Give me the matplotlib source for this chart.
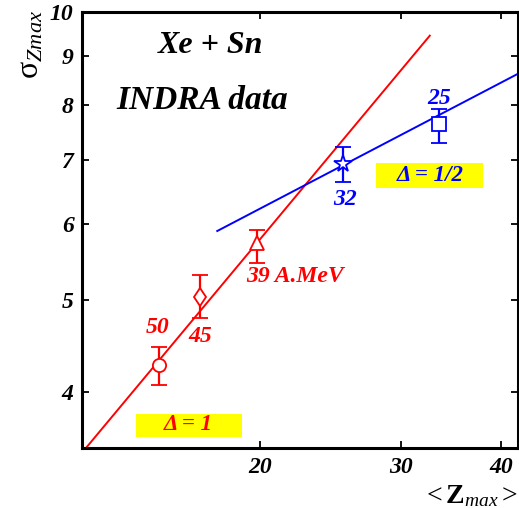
import numpy as np
import matplotlib
matplotlib.use("Agg")
import matplotlib.pyplot as plt
from matplotlib.patches import Rectangle
from matplotlib.ticker import FixedLocator, NullLocator, FixedFormatter

# data points (mean Zmax, sigma Zmax, error bar low/high)
red_x = [14.97, 16.83, 19.87]
red_y = [4.27, 5.03, 5.73]
red_lo = [4.07, 4.78, 5.46]
red_hi = [4.46, 5.30, 5.91]
red_markers = ['o', 'd', '^']
red_labels = ['50', '45', '39 A.MeV']
red_label_x = [14.93, 16.88, 19.21]
red_label_y = [4.67, 4.57, 5.29]

blue_x = [25.4, 33.5]
blue_y = [6.94, 7.64]
blue_lo = [6.64, 7.29]
blue_hi = [7.23, 7.92]
blue_markers = ['*', 's']
blue_labels = ['32', '25']
blue_label_x = [25.56, 33.45]
blue_label_y = [6.37, 8.13]

# scaling lines
red_line_x = [12.15, 32.6]
red_line_y = [3.5, 9.45]
blue_line_x = [17.7, 42.0]
blue_line_y = [5.90, 8.62]

xticks = [20, 30, 40]
yticks = [4, 5, 6, 7, 8, 9, 10]

RED = '#ff0000'
BLUE = '#0000ff'
FONT = 'Liberation Serif'

plt.rcParams['mathtext.fontset'] = 'custom'
plt.rcParams['mathtext.rm'] = 'Liberation Serif'
plt.rcParams['mathtext.it'] = 'Liberation Serif:italic'
plt.rcParams['mathtext.bf'] = 'Liberation Serif:bold'

fig = plt.figure(figsize=(5.19, 5.08), dpi=100)
ax = fig.add_axes([0.158, 0.119, 0.840, 0.857])
ax.set_xscale('log')
ax.set_yscale('log')
ax.set_xlim(12, 42)
ax.set_ylim(3.5, 10)

ax.plot(red_line_x, red_line_y, color=RED, lw=1.4)
ax.plot(blue_line_x, blue_line_y, color=BLUE, lw=1.4)

def draw_points(xs, ys, lo, hi, markers, color):
	for i in range(len(xs)):
		err = [[ys[i] - lo[i]], [hi[i] - ys[i]]]
		ms = 13 if markers[i] == '*' else 9.5
		ax.errorbar([xs[i]], [ys[i]], yerr=err, fmt=markers[i], color=color,
			mfc='white', mec=color, ms=ms, mew=1.3, elinewidth=1.6,
			capsize=5.5, capthick=1.6)

draw_points(red_x, red_y, red_lo, red_hi, red_markers, RED)
draw_points(blue_x, blue_y, blue_lo, blue_hi, blue_markers, BLUE)

for i in range(len(red_labels)):
	ha = 'left' if i == 2 else 'center'
	ax.text(red_label_x[i], red_label_y[i], red_labels[i], color=RED, ha=ha, va='center',
		fontsize=17, family=FONT, weight='bold', style='italic')
for i in range(len(blue_labels)):
	ax.text(blue_label_x[i], blue_label_y[i], blue_labels[i], color=BLUE, ha='center', va='center',
		fontsize=17, family=FONT, weight='bold', style='italic')

ax.text(0.294, 0.924, 'Xe + Sn', transform=ax.transAxes, ha='center', va='center',
	fontsize=23, family=FONT, weight='bold', style='italic')
ax.text(0.275, 0.798, 'INDRA data', transform=ax.transAxes, ha='center', va='center',
	fontsize=24, family=FONT, weight='bold', style='italic')

# yellow boxes
ax.add_patch(Rectangle((0.124, 0.025), 0.242, 0.052, transform=ax.transAxes,
	facecolor='#ffff00', edgecolor='none', zorder=1))
ax.text(0.243, 0.052, '\u0394 = 1', transform=ax.transAxes, ha='center', va='center',
	color=RED, fontsize=16.5, family=FONT, weight='bold', style='italic', zorder=2)
ax.add_patch(Rectangle((0.674, 0.597), 0.246, 0.057, transform=ax.transAxes,
	facecolor='#ffff00', edgecolor='none', zorder=1))
ax.text(0.798, 0.625, '\u0394 = 1/2', transform=ax.transAxes, ha='center', va='center',
	color=BLUE, fontsize=16.5, family=FONT, weight='bold', style='italic', zorder=2)

ax.xaxis.set_major_locator(FixedLocator(xticks))
ax.xaxis.set_major_formatter(FixedFormatter([str(t) for t in xticks]))
ax.xaxis.set_minor_locator(NullLocator())
ax.yaxis.set_major_locator(FixedLocator(yticks))
ax.yaxis.set_major_formatter(FixedFormatter([str(t) for t in yticks]))
ax.yaxis.set_minor_locator(NullLocator())
ax.tick_params(direction='in', top=True, right=True, length=5, width=1.3, pad=6)
for tl in ax.get_xticklabels() + ax.get_yticklabels():
	tl.set_fontsize(17)
	tl.set_family(FONT)
	tl.set_weight('bold')
	tl.set_style('italic')
ax.tick_params(axis='x', pad=7)
for sp in ax.spines.values():
	sp.set_linewidth(2.2)

fig.text(0.058, 1 - 44 / 508., r'$\mathrm{\sigma}_{Zmax}$', rotation=90, ha='center', va='center',
	fontsize=23)
fig.text(470 / 519., 1 - 495 / 508., r'$<\mathbf{Z}_{max}>$', ha='center', va='center',
	fontsize=20)

fig.savefig('out.png', dpi=100)
